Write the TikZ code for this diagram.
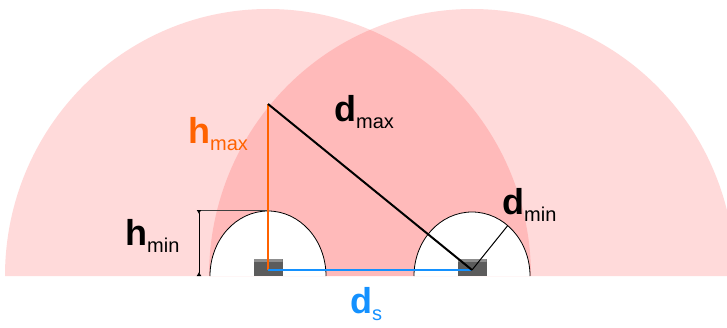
\documentclass[tikz,border=0pt]{standalone}
\usepackage{fontspec}
\setmainfont{Liberation Sans}
\usetikzlibrary{arrows.meta,positioning}
\definecolor{zonered}{RGB}{255,0,0}
\definecolor{hmaxorange}{RGB}{255,98,0}
\definecolor{dsblue}{RGB}{20,145,255}
\definecolor{sensorgray}{RGB}{92,92,92}
\newcommand{\symlbl}[2]{\fontsize{36}{36}\selectfont\bfseries #1\raisebox{-7pt}{\fontsize{20}{20}\selectfont\mdseries #2}}

\begin{document}
\begin{tikzpicture}[x=1pt,y=1pt,>=Stealth,
  zone/.style={fill=zonered,fill opacity=0.145},
  deadzone/.style={fill=white,draw=black,line width=0.8pt},
  sensor/.style={fill=sensorgray,minimum width=29pt,minimum height=17pt,inner sep=0pt,
    path picture={\fill[sensorgray!70!white] (path picture bounding box.north west) rectangle ([yshift=-3pt]path picture bounding box.north east);}},
  lbl/.style={anchor=base west,inner sep=0pt}]
\useasboundingbox (0,0) rectangle (727,327);
\clip (0,0) rectangle (727,327);
\fill[zone] (5,51) arc[start angle=180,end angle=0,x radius=263,y radius=267] -- cycle;
\fill[zone] (209,51) arc[start angle=180,end angle=0,x radius=263,y radius=267] -- cycle;
\draw[deadzone] (210,51) arc[start angle=180,end angle=0,x radius=58,y radius=65];
\draw[deadzone] (414,51) arc[start angle=180,end angle=0,x radius=58,y radius=64];
\coordinate (top) at (268,223);
\coordinate (ls) at (268,57);
\coordinate (rs) at (472,57);
\coordinate (edge) at (507.7,101.4);
\coordinate (hlo) at (199,51);
\coordinate (hhi) at (199,117);
\coordinate (hext) at (268,117);
\draw[black!75,line width=0.8pt] (hhi) -- (hext);
\draw[line width=0.8pt,{Latex[reversed,length=4pt,width=5pt]}-{Latex[reversed,length=4pt,width=5pt]}] (hhi) -- (hlo);
\node[sensor] (lsensor) at (268,59.5) {};
\node[sensor] (rsensor) at (472,59.5) {};
\draw[hmaxorange,line width=2pt] (top) -- (ls);
\draw[dsblue,line width=2.5pt] (ls) -- (rs);
\draw[line width=2pt] (top) -- (rs);
\draw[line width=1pt] (rs) -- (edge);
\node[lbl,text=hmaxorange] (hmax) at (188,184) {\symlbl{h}{max}};
\node[lbl] (dmax) at (334,205) {\symlbl{d}{max}};
\node[lbl] (dmin) at (502,113) {\symlbl{d}{min}};
\node[lbl] (hmin) at (125,82) {\symlbl{h}{min}};
\node[lbl,text=dsblue] (ds) at (350,14) {\symlbl{d}{s}};
\end{tikzpicture}
\end{document}
